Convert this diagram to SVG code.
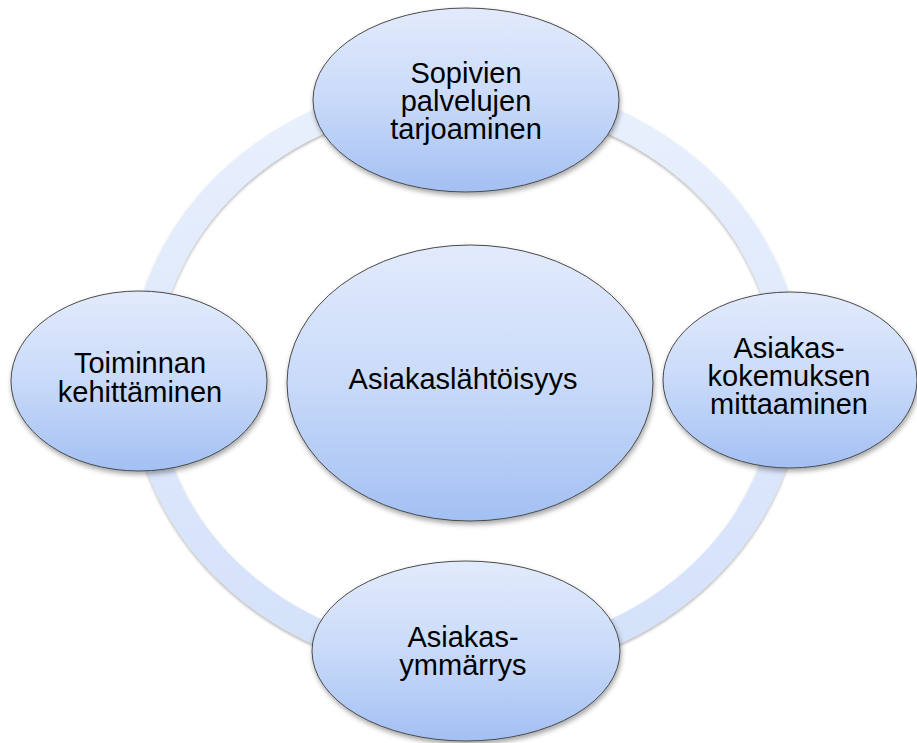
<svg xmlns="http://www.w3.org/2000/svg" width="917" height="743" viewBox="0 0 917 743">
<defs>
<linearGradient id="nodeGrad" x1="0" y1="0" x2="0" y2="1">
<stop offset="0" stop-color="#e2ebfc"/>
<stop offset="0.5" stop-color="#c9daf9"/>
<stop offset="1" stop-color="#a3c0f3"/>
</linearGradient>
<linearGradient id="ringGrad" x1="0" y1="0" x2="0" y2="1">
<stop offset="0" stop-color="#e9f0fd"/>
<stop offset="1" stop-color="#d3e1fa"/>
</linearGradient>
<filter id="shadow" x="-10%" y="-10%" width="120%" height="125%">
<feDropShadow dx="1" dy="3" stdDeviation="2.5" flood-color="#000" flood-opacity="0.35"/>
</filter>
<filter id="ringShadow" x="-10%" y="-10%" width="120%" height="120%">
<feDropShadow dx="0" dy="2" stdDeviation="1.5" flood-color="#000" flood-opacity="0.3"/>
</filter>
</defs>
<style>
.node { fill: url(#nodeGrad); stroke: #4a4a4a; stroke-width: 1; filter: url(#shadow); }
.label { font-family: "Liberation Sans", Arial, sans-serif; font-size: 29px; fill: #000; text-anchor: middle; }
</style>
<rect width="917" height="743" fill="#fff"/>
<g id="connectors">
<ellipse cx="466" cy="377" rx="323" ry="287" fill="none" stroke="url(#ringGrad)" stroke-width="26" filter="url(#ringShadow)"/>
</g>
<g id="node-center">
<ellipse class="node" cx="470" cy="383" rx="183" ry="138"/>
<text class="label" x="463" y="389">Asiakaslähtöisyys</text>
</g>
<g id="node-top">
<ellipse class="node" cx="466" cy="100" rx="153" ry="92"/>
<text class="label" x="466" y="83">Sopivien</text>
<text class="label" x="466" y="111">palvelujen</text>
<text class="label" x="466" y="139">tarjoaminen</text>
</g>
<g id="node-right">
<ellipse class="node" cx="790" cy="380" rx="127" ry="88"/>
<text class="label" x="789" y="358">Asiakas-</text>
<text class="label" x="789" y="386">kokemuksen</text>
<text class="label" x="789" y="414">mittaaminen</text>
</g>
<g id="node-bottom">
<ellipse class="node" cx="466" cy="651" rx="154" ry="90"/>
<text class="label" x="463" y="647">Asiakas-</text>
<text class="label" x="463" y="675">ymmärrys</text>
</g>
<g id="node-left">
<ellipse class="node" cx="139" cy="381" rx="128" ry="90"/>
<text class="label" x="140" y="373">Toiminnan</text>
<text class="label" x="140" y="402">kehittäminen</text>
</g>
</svg>
